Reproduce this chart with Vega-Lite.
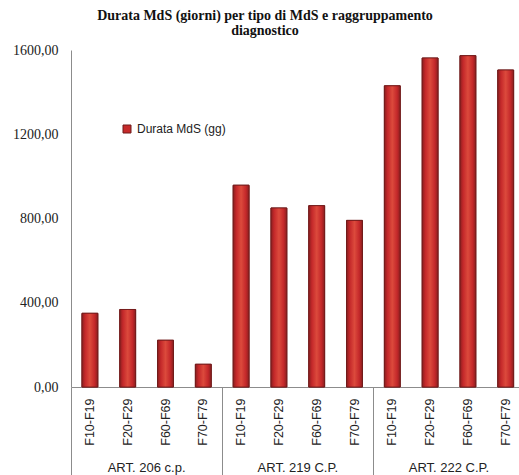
{
  "$schema": "https://vega.github.io/schema/vega-lite/v6.json",
  "autosize": {"type": "none"},
  "padding": {"left": 71, "top": 50, "right": 0, "bottom": 88},
  "width": 448,
  "height": 337,
  "background": "white",
  "title": {
    "text": ["Durata MdS (giorni) per tipo di MdS e raggruppamento", "diagnostico"],
    "font": "Liberation Serif",
    "fontSize": 14,
    "fontWeight": "bold",
    "color": "#111111",
    "anchor": "middle",
    "lineHeight": 15,
    "offset": 5,
    "dx": -30
  },
  "data": {
    "values": [
      {"group": "ART. 206 c.p.", "code": "F10-F19", "key": "ART. 206 c.p.|F10-F19", "value": 350},
      {"group": "ART. 206 c.p.", "code": "F20-F29", "key": "ART. 206 c.p.|F20-F29", "value": 368},
      {"group": "ART. 206 c.p.", "code": "F60-F69", "key": "ART. 206 c.p.|F60-F69", "value": 222},
      {"group": "ART. 206 c.p.", "code": "F70-F79", "key": "ART. 206 c.p.|F70-F79", "value": 108},
      {"group": "ART. 219 C.P.", "code": "F10-F19", "key": "ART. 219 C.P.|F10-F19", "value": 958},
      {"group": "ART. 219 C.P.", "code": "F20-F29", "key": "ART. 219 C.P.|F20-F29", "value": 850},
      {"group": "ART. 219 C.P.", "code": "F60-F69", "key": "ART. 219 C.P.|F60-F69", "value": 861},
      {"group": "ART. 219 C.P.", "code": "F70-F79", "key": "ART. 219 C.P.|F70-F79", "value": 791},
      {"group": "ART. 222 C.P.", "code": "F10-F19", "key": "ART. 222 C.P.|F10-F19", "value": 1430},
      {"group": "ART. 222 C.P.", "code": "F20-F29", "key": "ART. 222 C.P.|F20-F29", "value": 1562},
      {"group": "ART. 222 C.P.", "code": "F60-F69", "key": "ART. 222 C.P.|F60-F69", "value": 1573},
      {"group": "ART. 222 C.P.", "code": "F70-F79", "key": "ART. 222 C.P.|F70-F79", "value": 1505}
    ]
  },
  "layer": [
    {
      "encoding": {
        "x": {
          "field": "key",
          "type": "nominal",
          "sort": null,
          "scale": {"range": [0, 453.6], "paddingInner": 0.58, "paddingOuter": 0.29},
          "axis": {
            "title": null,
            "orient": "bottom",
            "labelExpr": "split(datum.label, '|')[1]",
            "labelAngle": 270,
            "labelFont": "Liberation Sans",
            "labelFontSize": 12.5,
            "labelColor": "#222222",
            "labelPadding": 11,
            "ticks": false,
            "domain": true,
            "domainColor": "#8c8c8c",
            "domainWidth": 1,
            "grid": false
          }
        },
        "y": {
          "field": "value",
          "type": "quantitative",
          "scale": {"domain": [0, 1600], "nice": false},
          "axis": {
            "title": null,
            "values": [0, 400, 800, 1200, 1600],
            "labelExpr": "replace(format(datum.value, '.2f'), '.', ',')",
            "labelFont": "Liberation Serif",
            "labelFontSize": 14,
            "labelColor": "#222222",
            "labelPadding": 13,
            "ticks": false,
            "grid": false,
            "domain": true,
            "domainColor": "#8c8c8c",
            "domainWidth": 1
          }
        }
      },
      "layer": [
        {
          "mark": {"type": "bar", "stroke": "#6e1a1a", "strokeWidth": 1},
          "encoding": {
            "color": {
              "datum": "Durata MdS (gg)",
              "type": "nominal",
              "scale": {"range": ["#c62a2a"]},
              "legend": {
                "title": null,
                "orient": "none",
                "legendX": 50,
                "legendY": 73,
                "symbolType": "square",
                "symbolSize": 64,
                "symbolStrokeColor": "#6e1a1a",
                "symbolStrokeWidth": 1,
                "labelFont": "Liberation Sans",
                "labelFontSize": 12,
                "labelColor": "#222222",
                "padding": 0
              }
            }
          }
        },
        {
          "mark": {
            "type": "bar",
            "stroke": "#6e1a1a",
            "strokeWidth": 0.8,
            "fill": {
              "gradient": "linear",
              "x1": 0, "y1": 0, "x2": 1, "y2": 0,
              "stops": [
                {"offset": 0, "color": "#8a1f1f"},
                {"offset": 0.2, "color": "#c4282a"},
                {"offset": 0.5, "color": "#dc4a3c"},
                {"offset": 0.8, "color": "#c4282a"},
                {"offset": 1, "color": "#8a1f1f"}
              ]
            }
          }
        }
      ]
    },
    {
      "mark": {"type": "rule", "opacity": 0},
      "encoding": {
        "x": {
          "field": "group",
          "type": "nominal",
          "sort": null,
          "scale": {"range": [0, 453.6], "paddingInner": 0, "paddingOuter": 0},
          "axis": {
            "title": null,
            "orient": "bottom",
            "bandPosition": 0,
            "labelAngle": 0,
            "labelAlign": "center",
            "labelBaseline": "alphabetic",
            "labelFont": "Liberation Sans",
            "labelFontSize": 13,
            "labelColor": "#222222",
            "labelPadding": -4,
            "ticks": true,
            "tickSize": 88,
            "tickColor": "#8c8c8c",
            "tickWidth": 1,
            "domain": false,
            "grid": false
          }
        }
      }
    }
  ],
  "resolve": {"scale": {"x": "independent", "color": "independent"}},
  "config": {"view": {"stroke": null}}
}
